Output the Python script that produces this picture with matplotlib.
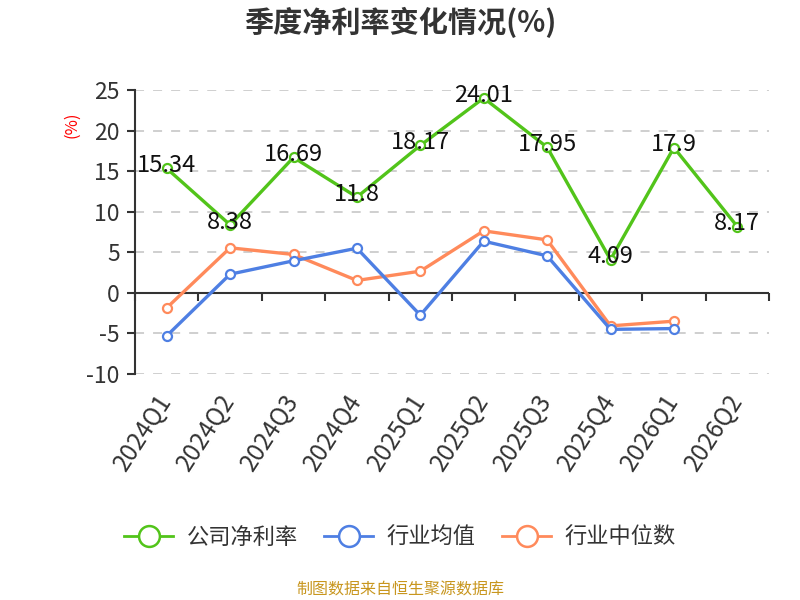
import numpy as np
import matplotlib
matplotlib.use('Agg')
import matplotlib.pyplot as plt
from matplotlib.lines import Line2D

plt.rcParams['font.family'] = ['Noto Sans CJK SC', 'DejaVu Sans']
plt.rcParams['axes.unicode_minus'] = False

quarters = ['2024Q1', '2024Q2', '2024Q3', '2024Q4', '2025Q1',
            '2025Q2', '2025Q3', '2025Q4', '2026Q1', '2026Q2']
company = [15.34, 8.38, 16.69, 11.8, 18.17, 24.01, 17.95, 4.09, 17.9, 8.17]
ind_mean = [-5.3, 2.3, 3.95, 5.5, -2.75, 6.37, 4.56, -4.5, -4.4]
ind_median = [-1.85, 5.55, 4.73, 1.53, 2.67, 7.64, 6.53, -4.07, -3.49]

green = '#52c41a'
blue = '#4e7fe3'
orange = '#ff8a5b'

ymin, ymax = -10, 25

fig = plt.figure(figsize=(8, 6), dpi=100)
ax = fig.add_axes([135/800, 1-374/600, (769-135)/800, (374-90)/600])

x = np.arange(len(quarters))
mk = dict(marker='o', markersize=6.5, markerfacecolor='white', markeredgewidth=1.6)
ax.plot(x[:len(ind_median)], ind_median, color=orange, lw=2.4, zorder=3, **mk)
ax.plot(x[:len(ind_mean)], ind_mean, color=blue, lw=2.4, zorder=4, **mk)
ax.plot(x, company, color=green, lw=2.4, zorder=5, **mk)

for xi, v in zip(x, company):
    ax.annotate(f'{v:g}', (xi, v), xytext=(0, 2), textcoords='offset points',
                ha='center', va='center', fontsize=17, color='#111111', zorder=6)

ax.set_xlim(-0.5, len(quarters) - 0.5)
ax.set_ylim(ymin, ymax)
ax.set_yticks(np.arange(ymin, ymax + 1, 5))
ax.tick_params(axis='y', labelsize=16.5, colors='#333333', length=6, width=1.5, pad=5)
ax.yaxis.grid(True, linestyle=(0, (5, 5)), color='#cccccc', lw=1.3)
ax.set_axisbelow(True)
ax.axhline(0, color='#333333', lw=1.5, zorder=2.5)

# category labels below the plot
ax.set_xticks(x)
ax.set_xticklabels(quarters, rotation=57, ha='right', va='center',
                   rotation_mode='anchor', fontsize=17.5, color='#333333')
ax.tick_params(axis='x', length=0, pad=16)

for s in ['top', 'right', 'bottom']:
    ax.spines[s].set_visible(False)
ax.spines['left'].set_color('#333333')
ax.spines['left'].set_linewidth(1.5)

# boundary ticks on the zero line
zero_ax = ax.secondary_xaxis((0 - ymin) / (ymax - ymin))
zero_ax.set_xticks(np.arange(-0.5, len(quarters), 1))
zero_ax.set_xticklabels([])
zero_ax.tick_params(length=6, width=1.5, color='#333333', direction='out')
zero_ax.spines['bottom'].set_visible(False)

fig.text(0.5, 1-22/600, '季度净利率变化情况(%)', ha='center', va='center',
         fontsize=21, fontweight='bold', color='#333333')
fig.text(72/800, 1-125/600, '(%)', rotation=90, ha='center', va='center',
         fontsize=12, color='red')

lmk = dict(marker='o', markersize=15, markerfacecolor='white', markeredgewidth=1.8, lw=2)
handles = [Line2D([], [], color=green, **lmk),
           Line2D([], [], color=blue, **lmk),
           Line2D([], [], color=orange, **lmk)]
fig.legend(handles, ['公司净利率', '行业均值', '行业中位数'], loc='center',
           bbox_to_anchor=(0.5, 1-537/600), ncol=3, frameon=False, fontsize=16,
           handlelength=2.2, columnspacing=1.2, handletextpad=0.6,
           labelcolor='#333333')

fig.text(0.5, 1-590/600, '制图数据来自恒生聚源数据库', ha='center', va='center',
         fontsize=11.5, color='#c8961e')

fig.savefig('out.png', dpi=100)
